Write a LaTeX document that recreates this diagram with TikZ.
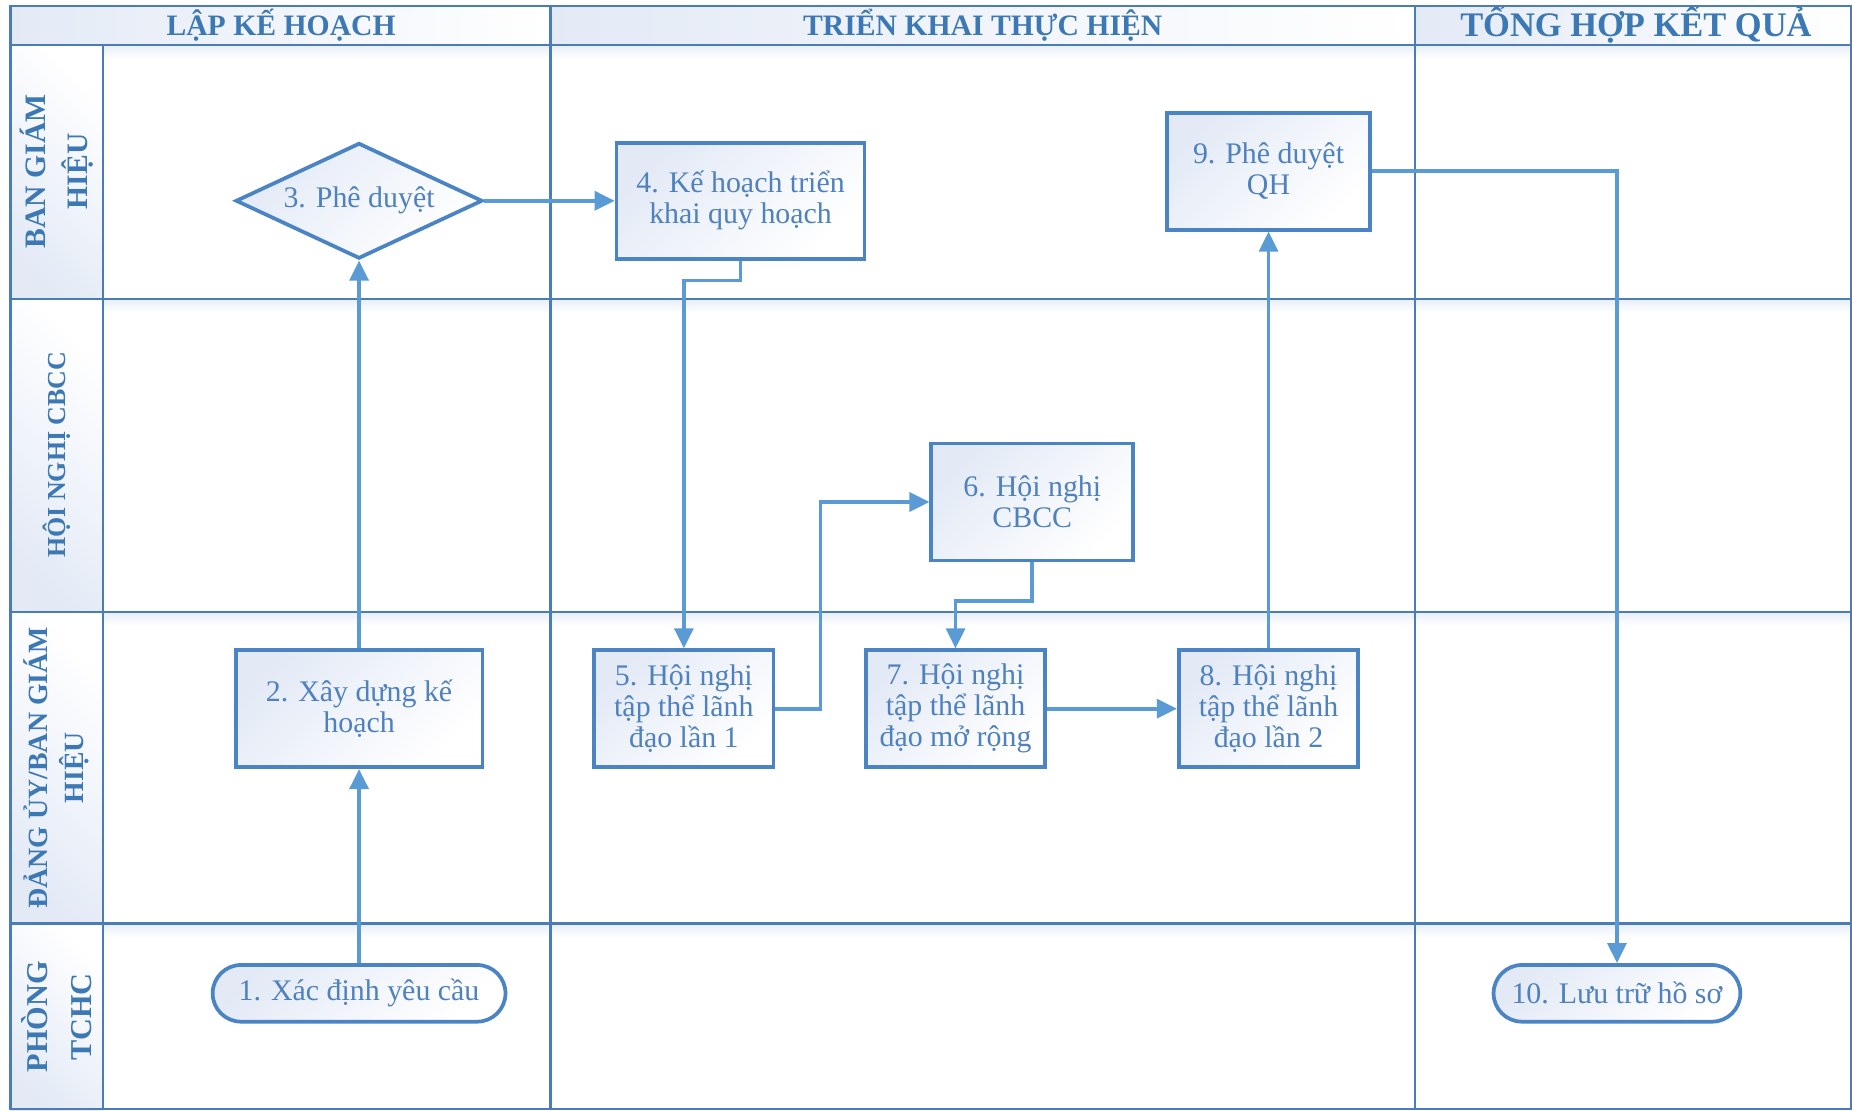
\documentclass[tikz,border=0pt]{standalone}
\usepackage{fontspec}
\setmainfont{Liberation Serif}
\usepackage{xcolor}
\usetikzlibrary{positioning,arrows.meta,shapes.geometric}

\definecolor{gridblue}{HTML}{4A7DB8}
\definecolor{boxblue}{HTML}{4A84C4}
\definecolor{linkblue}{HTML}{5B9BD5}
\definecolor{txtblue}{HTML}{4F81BD}
\definecolor{headblue}{HTML}{3C78B4}
\definecolor{tintblue}{HTML}{E3EAF6}
\definecolor{shadowblue}{HTML}{E8EEF7}

\tikzset{
  stepbox/.style={draw=boxblue, line width=1.8pt, top color=tintblue, bottom color=white,
    shading angle=45, text=txtblue, align=center, inner sep=0pt,
    font=\fontsize{14.4}{15}\selectfont},
  decision/.style={stepbox, diamond, aspect=2.13, minimum width=4.18cm, minimum height=1.96cm},
  terminal/.style={stepbox, rounded corners=0.48cm, minimum height=0.96cm},
  lanetitle/.style={text=headblue, align=center, rotate=90, font=\bfseries},
  phasetitle/.style={text=headblue, font=\bfseries},
  flow/.style={draw=linkblue, line width=1.8pt, -{Triangle[length=0.34cm,width=0.32cm]}},
  gridline/.style={draw=gridblue, line width=1.2pt}
}

\begin{document}
\begin{tikzpicture}[x=0.02cm, y=-0.02cm]
        \useasboundingbox (0,0) rectangle (1568,940);
        \fill[white] (0,0) rectangle (1568,940);

        % Header cells
        \shade[left color=tintblue, right color=white] (9,5) rectangle (466,38);
        \shade[left color=tintblue, right color=white] (466,5) rectangle (1198,38);
        \shade[left color=tintblue, right color=white] (1198,5) rectangle (1568,38);
        \node[phasetitle, font=\bfseries\fontsize{14.3}{15}\selectfont] (hLap) at (238,21) {LẬP KẾ HOẠCH};
        \node[phasetitle, font=\bfseries\fontsize{14.3}{15}\selectfont] (hTrien) at (832,21) {TRIỂN KHAI THỰC HIỆN};
        \node[phasetitle, font=\bfseries\fontsize{16.6}{17}\selectfont] (hTong) at (1385,21) {TỔNG HỢP KẾT QUẢ};

        % Lane title cells
        \shade[top color=white, bottom color=tintblue, shading angle=-45] (9,38) rectangle (87,253);
        \shade[top color=white, bottom color=tintblue, shading angle=-45] (9,253) rectangle (87,518);
        \shade[top color=white, bottom color=tintblue, shading angle=-45] (9,518) rectangle (87,782);
        \shade[top color=white, bottom color=tintblue, shading angle=-45] (9,782) rectangle (87,940);
        \node[lanetitle, font=\bfseries\fontsize{14.3}{20.4}\selectfont] (lBgh) at (48,145) {BAN GIÁM\\HIỆU};
        \node[lanetitle, font=\bfseries\fontsize{12.5}{14}\selectfont] (lHoi) at (48,385) {HỘI NGHỊ CBCC};
        \node[lanetitle, font=\bfseries\fontsize{13.4}{17.4}\selectfont] (lDang) at (48,650) {ĐẢNG ỦY/BAN GIÁM\\HIỆU};
        \node[lanetitle, font=\bfseries\fontsize{14.6}{21}\selectfont] (lPhong) at (48,861) {PHÒNG\\TCHC};

        % Shadows under lane lines
        \foreach \yy in {38,253,518,782}
          \shade[top color=shadowblue, bottom color=white] (87,\yy) rectangle (1568,\yy+12);

        % Grid
        \draw[gridline] (9,5) rectangle (1567,939);
        \draw[gridline] (9,38) -- (1567,38);
        \foreach \yy in {253,518,782}
          \draw[gridline] (9,\yy) -- (1567,\yy);
        \draw[gridline] (87,38) -- (87,939);
        \draw[gridline] (466,5) -- (466,939);
        \draw[gridline] (1198,5) -- (1198,939);

        % Steps
        \node[terminal, minimum width=4.96cm] (t1) at (304,841) {1. Xác định yêu cầu};
        \node[stepbox, minimum width=4.18cm, minimum height=1.98cm] (b2) at (304,600) {2. Xây dựng kế\\hoạch};
        \node[decision] (d3) at (304,170) {3. Phê duyệt};
        \node[stepbox, minimum width=4.2cm, minimum height=1.96cm] (b4) at (627,170) {4. Kế hoạch triển\\khai quy hoạch};
        \node[stepbox, minimum width=3.04cm, minimum height=1.98cm] (b5) at (579,600) {5. Hội nghị\\tập thể lãnh\\đạo lần 1};
        \node[stepbox, minimum width=3.42cm, minimum height=1.98cm] (b6) at (874,425) {6. Hội nghị\\CBCC};
        \node[stepbox, minimum width=3.04cm, minimum height=1.98cm] (b7) at (809,600) {7. Hội nghị\\tập thể lãnh\\đạo mở rộng};
        \node[stepbox, minimum width=3.04cm, minimum height=1.98cm] (b8) at (1074,600) {8. Hội nghị\\tập thể lãnh\\đạo lần 2};
        \node[stepbox, minimum width=3.44cm, minimum height=1.98cm] (b9) at (1074,145) {9. Phê duyệt\\QH};
        \node[terminal, minimum width=4.18cm] (t10) at (1369,841) {10. Lưu trữ hồ sơ};

        % Flow
        \draw[flow] (t1) -- (b2);
        \draw[flow] (b2) -- (d3);
        \draw[flow] (d3) -- (b4);
        \draw[flow] (b4.south) -- ++(0,17) -| (b5.north);
        \draw[flow] (b5.east) -- ++(38,0) |- (b6.west);
        \draw[flow] (b6.south) -- ++(0,33) -| (b7.north);
        \draw[flow] (b7) -- (b8);
        \draw[flow] (b8) -- (b9);
        \draw[flow] (b9.east) -| (t10.north);
    \end{tikzpicture}
\end{document}
